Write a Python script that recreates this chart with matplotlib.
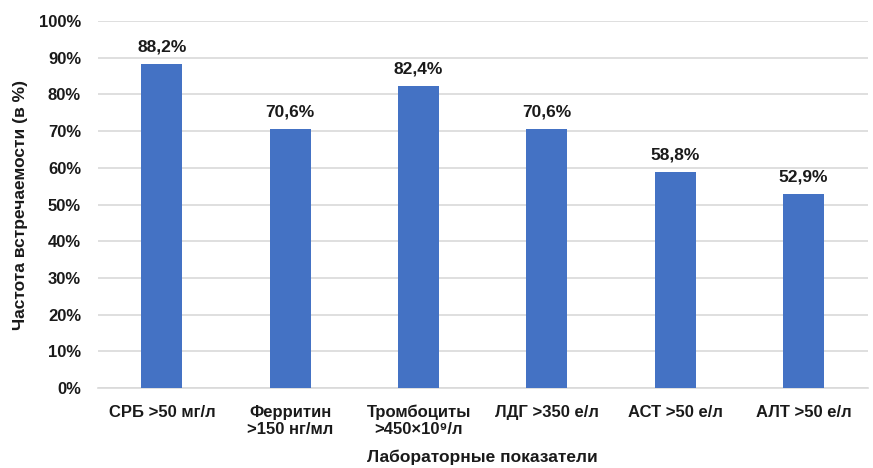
import matplotlib
matplotlib.use("Agg")
import matplotlib.pyplot as plt
from matplotlib.ticker import MultipleLocator, FuncFormatter

categories = ["СРБ >50 мг/л", "Ферритин\n>150 нг/мл", "Тромбоциты\n>450×10⁹/л",
              "ЛДГ >350 е/л", "АСТ >50 е/л", "АЛТ >50 е/л"]
values = [88.2, 70.6, 82.4, 70.6, 58.8, 52.9]

plt.rcParams["font.family"] = ["Liberation Sans", "DejaVu Sans"]
plt.rcParams["font.weight"] = "bold"

TXT = "#1A1A1A"

fig = plt.figure(figsize=(8.73, 4.68), dpi=100)
ax = fig.add_axes([0.112, 0.171, 0.882, 0.784])

x = range(len(categories))
ax.bar(x, values, width=0.32, color="#4472C4", zorder=3)

for xi, v in zip(x, values):
    ax.text(xi, v + 2.6, f"{v:.1f}%".replace(".", ","), ha="center", va="bottom",
            fontsize=12.5, fontweight="bold", color=TXT)

ax.set_xlim(-0.5, len(categories) - 0.5)
ax.set_ylim(0, 100)
ax.yaxis.set_major_locator(MultipleLocator(10))
ax.yaxis.set_major_formatter(FuncFormatter(lambda v, p: f"{v:.0f}%"))
ax.grid(axis="y", color="#D9D9D9", linewidth=1.2, zorder=0)

for s in ["top", "right", "left"]:
    ax.spines[s].set_visible(False)
ax.spines["bottom"].set_color("#D9D9D9")
ax.spines["bottom"].set_linewidth(1.2)

ax.set_xticks(list(x))
ax.set_xticklabels(categories, fontsize=12, fontweight="bold", color=TXT)
ax.tick_params(axis="both", length=0)
ax.tick_params(axis="x", pad=12)
ax.tick_params(axis="y", pad=12)
for t in ax.get_yticklabels():
    t.set_fontsize(12)
    t.set_fontweight("bold")
    t.set_color(TXT)

ax.set_ylabel("Частота встречаемости (в %)", fontsize=12.5, fontweight="bold", color=TXT,
              labelpad=8)
ax.set_xlabel("Лабораторные показатели", fontsize=12.5, fontweight="bold", color=TXT,
              labelpad=9)

fig.savefig("out.png", dpi=100)
